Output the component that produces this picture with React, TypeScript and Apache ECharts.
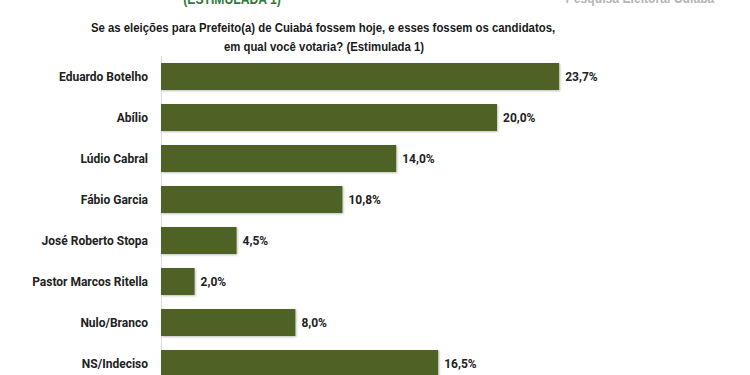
import React, { useEffect, useRef } from "react";
import * as echarts from "echarts";

const categories = [
  "Eduardo Botelho",
  "Abílio",
  "Lúdio Cabral",
  "Fábio Garcia",
  "José Roberto Stopa",
  "Pastor Marcos Ritella",
  "Nulo/Branco",
  "NS/Indeciso",
];
const values = [23.7, 20.0, 14.0, 10.8, 4.5, 2.0, 8.0, 16.5];
const titleLines = [
  "Se as eleições para Prefeito(a) de Cuiabá fossem hoje, e esses fossem os candidatos,",
  "em qual você votaria? (Estimulada 1)",
];
const headerLeft = "(ESTIMULADA 1)";
const headerRight = "Pesquisa Eleitoral Cuiabá";

const TFONT = '"Liberation Sans", Arial, sans-serif';
const LFONT = 'Roboto, "Liberation Sans", Arial, sans-serif';

export default function App() {
  const ref = useRef<HTMLDivElement>(null);
  useEffect(() => {
    document.body.style.margin = "0";
    if (!ref.current) return;
    const chart = echarts.init(ref.current, null, { renderer: "svg" });
    chart.setOption({
      animation: false,
      backgroundColor: "#ffffff",
      graphic: [
        {
          type: "text",
          x: 232,
          y: -1,
          scaleX: 0.87,
          style: {
            text: headerLeft,
            fill: "#2f7a3a",
            font: `bold 14px ${TFONT}`,
            textAlign: "center",
            textVerticalAlign: "middle",
          },
        },
        {
          type: "text",
          x: 640,
          y: -2,
          scaleX: 0.87,
          style: {
            text: headerRight,
            fill: "#b5b5b5",
            font: `bold 14px ${TFONT}`,
            textAlign: "center",
            textVerticalAlign: "middle",
          },
        },
        {
          type: "text",
          x: 323,
          y: 28,
          scaleX: 0.875,
          style: {
            text: titleLines[0],
            fill: "#1a1a1a",
            font: `bold 13px ${TFONT}`,
            textAlign: "center",
            textVerticalAlign: "middle",
          },
        },
        {
          type: "text",
          x: 324,
          y: 47,
          scaleX: 0.875,
          style: {
            text: titleLines[1],
            fill: "#1a1a1a",
            font: `bold 13px ${TFONT}`,
            textAlign: "center",
            textVerticalAlign: "middle",
          },
        },
      ],
      grid: {
        left: 161,
        top: 56,
        width: 420,
        height: 328,
        containLabel: false,
        outerBoundsMode: "none",
      },
      xAxis: {
        type: "value",
        min: 0,
        max: 25,
        show: false,
      },
      yAxis: {
        type: "category",
        data: categories,
        inverse: true,
        axisLine: { show: true, lineStyle: { color: "#dcdcdc", width: 1 } },
        axisTick: { show: false },
        axisLabel: {
          margin: 13,
          color: "#222222",
          fontFamily: LFONT,
          fontWeight: "bold",
          fontSize: 12,
        },
      },
      series: [
        {
          type: "bar",
          data: values,
          barWidth: 27,
          itemStyle: { color: "#4f6228", shadowColor: "rgba(0,0,0,0.25)", shadowBlur: 2, shadowOffsetX: 1, shadowOffsetY: 1 },
          label: {
            show: true,
            position: "right",
            distance: 6,
            color: "#222222",
            fontFamily: LFONT,
            fontWeight: "bold",
            fontSize: 12,
            formatter: (p: any) => p.value.toFixed(1).replace(".", ",") + "%",
          },
        },
      ],
    });
    return () => chart.dispose();
  }, []);
  return <div ref={ref} style={{ width: 750, height: 375 }} />;
}
